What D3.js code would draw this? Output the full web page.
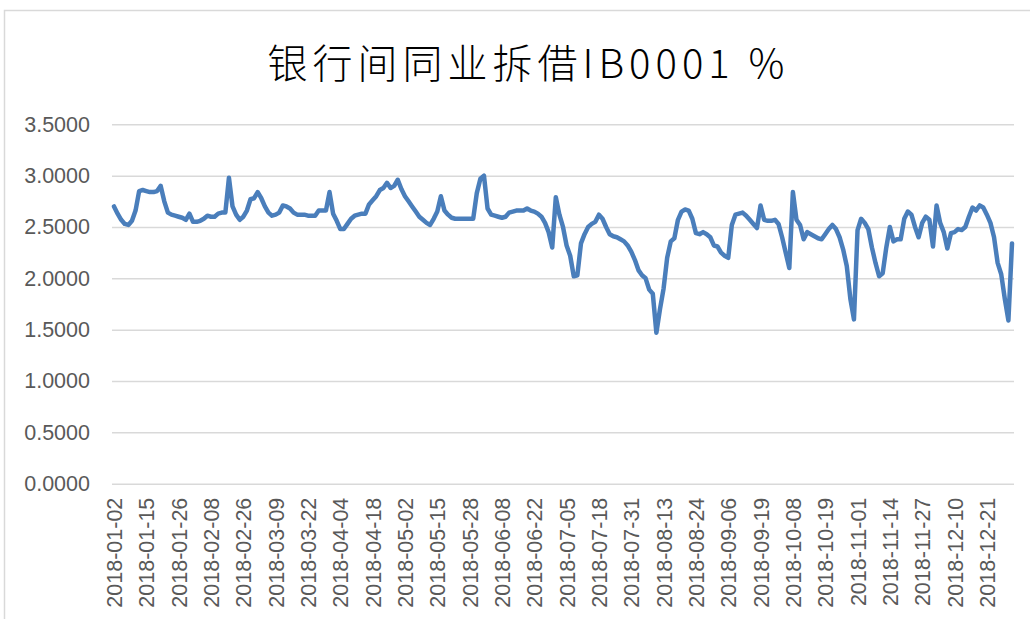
<!DOCTYPE html>
<html>
<head>
<meta charset="utf-8">
<script src="https://cdn.jsdelivr.net/npm/d3@7"></script>
<style>
    body { margin: 0; background: #ffffff; }
    svg { display: block; }
</style>
</head>
<body>
<div id="chart"></div>
<script>
// Chart data
const TITLE = "银行间同业拆借IB0001 %";

const Y_TICKS = [0, 0.5, 1.0, 1.5, 2.0, 2.5, 3.0, 3.5];

// one label every 9 trading days
const TICK_EVERY = 9;
const TICK_LABELS = [
    "2018-01-02", "2018-01-15", "2018-01-26", "2018-02-08", "2018-02-26", "2018-03-09", "2018-03-22",
    "2018-04-04", "2018-04-18", "2018-05-02", "2018-05-15", "2018-05-28", "2018-06-08", "2018-06-22",
    "2018-07-05", "2018-07-18", "2018-07-31", "2018-08-13", "2018-08-24", "2018-09-06", "2018-09-19",
    "2018-10-08", "2018-10-19", "2018-11-01", "2018-11-14", "2018-11-27", "2018-12-10", "2018-12-21"
];

// daily IB0001 rate, %
const IB0001 = [
    2.70, 2.63, 2.57, 2.53, 2.52, 2.56, 2.66, 2.85, 2.86, 2.85,
    2.84, 2.84, 2.85, 2.90, 2.75, 2.64, 2.62, 2.61, 2.60, 2.59,
    2.57, 2.63, 2.55, 2.55, 2.56, 2.58, 2.61, 2.60, 2.60, 2.63,
    2.64, 2.64, 2.98, 2.70, 2.62, 2.57, 2.60, 2.66, 2.77, 2.78,
    2.84, 2.78, 2.70, 2.64, 2.61, 2.62, 2.64, 2.71, 2.70, 2.68,
    2.64, 2.62, 2.62, 2.62, 2.61, 2.61, 2.61, 2.66, 2.66, 2.66,
    2.84, 2.63, 2.56, 2.48, 2.48, 2.53, 2.58, 2.61, 2.62, 2.63,
    2.63, 2.72, 2.76, 2.80, 2.86, 2.88, 2.93, 2.88, 2.90, 2.96,
    2.87, 2.80, 2.75, 2.70, 2.65, 2.60, 2.57, 2.54, 2.52, 2.58,
    2.65, 2.80, 2.66, 2.62, 2.59, 2.58, 2.58, 2.58, 2.58, 2.58,
    2.58, 2.83, 2.97, 3.00, 2.68, 2.62, 2.61, 2.60, 2.59, 2.60,
    2.64, 2.65, 2.66, 2.66, 2.66, 2.68, 2.66, 2.65, 2.63, 2.60,
    2.54, 2.45, 2.30, 2.79, 2.62, 2.50, 2.32, 2.22, 2.02, 2.03,
    2.34, 2.43, 2.50, 2.53, 2.55, 2.62, 2.58, 2.50, 2.43, 2.41,
    2.40, 2.38, 2.36, 2.32, 2.26, 2.18, 2.08, 2.03, 2.00, 1.89,
    1.85, 1.47, 1.70, 1.90, 2.20, 2.36, 2.39, 2.57, 2.65, 2.67,
    2.66, 2.58, 2.44, 2.43, 2.45, 2.43, 2.40, 2.32, 2.31, 2.25,
    2.22, 2.20, 2.52, 2.62, 2.63, 2.64, 2.61, 2.57, 2.53, 2.49,
    2.71, 2.57, 2.56, 2.56, 2.57, 2.53, 2.40, 2.25, 2.10, 2.84,
    2.57, 2.52, 2.38, 2.45, 2.43, 2.41, 2.39, 2.38, 2.43, 2.48,
    2.52, 2.48, 2.40, 2.28, 2.12, 1.80, 1.60, 2.47, 2.58, 2.54,
    2.48, 2.30, 2.15, 2.02, 2.05, 2.30, 2.50, 2.36, 2.38, 2.38,
    2.58, 2.65, 2.62, 2.50, 2.40, 2.54, 2.60, 2.57, 2.31, 2.71,
    2.54, 2.45, 2.29, 2.44, 2.45, 2.48, 2.47, 2.50, 2.60, 2.69,
    2.66, 2.71, 2.69, 2.62, 2.54, 2.40, 2.15, 2.04, 1.80, 1.59,
    2.34
];

const COLORS = {
    line: "#4a7ebb",
    grid: "#d9d9d9",
    label: "#595959",
    title: "#000000",
    frame: "#d9d9d9"
};

const W = 1030, H = 619;
const plot = { left: 112, right: 1014, top: 124.3, bottom: 483.7 };

const svg = d3.select("#chart").append("svg")
    .attr("width", W)
    .attr("height", H);

// chart frame (only top and left edges are inside the picture)
svg.append("rect")
    .attr("x", 4.5)
    .attr("y", 10.5)
    .attr("width", W + 20)
    .attr("height", H + 20)
    .attr("fill", "#ffffff")
    .attr("stroke", COLORS.frame)
    .attr("stroke-width", 1.5);

const x = d3.scaleLinear()
    .domain([0, IB0001.length - 1])
    .range([plot.left + 2, plot.right - 2]);

const y = d3.scaleLinear()
    .domain([0, 3.5])
    .range([plot.bottom, plot.top]);

// title
svg.append("text")
    .attr("x", 526)
    .attr("y", 78)
    .attr("text-anchor", "middle")
    .attr("font-family", "'Noto Sans CJK SC', sans-serif")
    .attr("font-weight", 300)
    .attr("font-size", 40)
    .attr("fill", COLORS.title)
    .attr("textLength", 517)
    .attr("lengthAdjust", "spacing")
    .text(TITLE);

// Y axis + gridlines
const yAxis = svg.append("g")
    .attr("transform", `translate(${plot.left},0)`)
    .call(d3.axisLeft(y)
        .tickValues(Y_TICKS)
        .tickSize(-(plot.right - plot.left))
        .tickPadding(22)
        .tickFormat(d3.format(".4f")));

yAxis.select(".domain").remove();
yAxis.selectAll(".tick line")
    .attr("stroke", COLORS.grid)
    .attr("stroke-width", 1.5);
yAxis.selectAll(".tick text")
    .attr("fill", COLORS.label)
    .attr("font-family", "'Liberation Sans', Arial, sans-serif")
    .attr("font-size", 21.5);

// X axis, rotated category labels
const xAxis = svg.append("g")
    .attr("transform", `translate(0,${plot.bottom})`)
    .call(d3.axisBottom(x)
        .tickValues(d3.range(0, IB0001.length, TICK_EVERY))
        .tickSize(0)
        .tickFormat(i => TICK_LABELS[i / TICK_EVERY] || ""));

xAxis.select(".domain").remove();
xAxis.selectAll(".tick text")
    .attr("fill", COLORS.label)
    .attr("font-family", "'Liberation Sans', Arial, sans-serif")
    .attr("font-size", 21.5)
    .attr("text-anchor", "end")
    .attr("transform", "rotate(-90)")
    .attr("x", -14)
    .attr("y", 0)
    .attr("dy", "0.35em");

// the series
const line = d3.line()
    .x((d, i) => x(i))
    .y(d => y(d));

svg.append("path")
    .datum(IB0001)
    .attr("fill", "none")
    .attr("stroke", COLORS.line)
    .attr("stroke-width", 4.5)
    .attr("stroke-linejoin", "round")
    .attr("stroke-linecap", "round")
    .attr("d", line);
</script>
</body>
</html>
